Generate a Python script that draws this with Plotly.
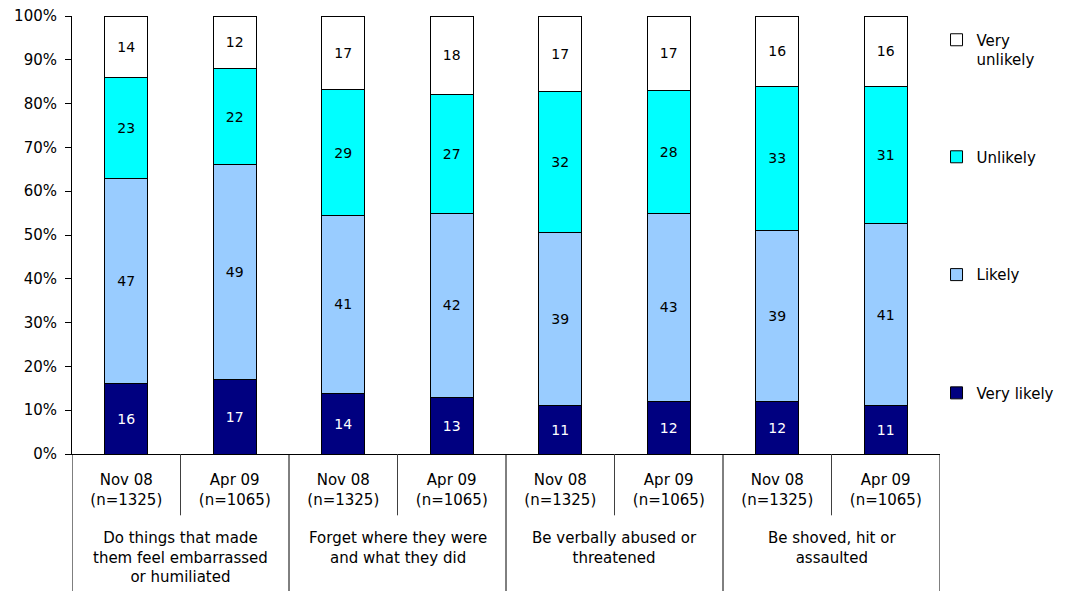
import plotly.graph_objects as go

# Categories: outer group (behaviour) and inner period (survey wave)
groups = [
    "Do things that made<br>them feel embarrassed<br>or humiliated",
    "Forget where they were<br>and what they did",
    "Be verbally abused or<br>threatened",
    "Be shoved, hit or<br>assaulted",
]
periods = ["Nov 08<br>(n=1325)", "Apr 09<br>(n=1065)"]

# Responses (%), in bar order
very_likely = [16, 17, 14, 13, 11, 12, 12, 11]
likely = [47, 49, 41, 42, 39, 43, 39, 41]
unlikely = [23, 22, 29, 27, 32, 28, 33, 31]
very_unlikely = [14, 12, 17, 18, 17, 17, 16, 16]

n_per = len(periods)
tick_text = [p for _ in groups for p in periods]
xpos = list(range(len(tick_text)))

FONT = "DejaVu Sans, Verdana, sans-serif"

series = [
    ("Very likely", very_likely, "#000080", "white", "legend4", 0.139),
    ("Likely", likely, "#99CCFF", "black", "legend3", 0.409),
    ("Unlikely", unlikely, "#00FFFF", "black", "legend2", 0.678),
    ("Very<br>unlikely", very_unlikely, "#FFFFFF", "black", "legend", 0.9235),
]

fig = go.Figure()
legends = {}
for name, vals, color, tcolor, leg, ly in series:
    fig.add_trace(go.Bar(
        x=xpos,
        y=vals,
        name=name,
        legend=leg,
        width=0.4,
        marker=dict(color=color, line=dict(color="black", width=1)),
        text=vals,
        textposition="inside",
        insidetextanchor="middle",
        textangle=0,
        constraintext="none",
        textfont=dict(family=FONT, size=14, color=tcolor),
        hoverinfo="skip",
    ))
    legends[leg] = dict(
        x=0.996, y=ly, xanchor="left", yanchor="middle",
        valign="top",
        font=dict(family=FONT, size=15, color="black"),
        bgcolor="rgba(0,0,0,0)",
        itemwidth=30,
    )

# Divider lines below the axis: thin grey ones between the two waves,
# black ones between behaviour groups (running to the bottom edge)
shapes = []
for g in range(len(groups)):
    mid = g * n_per + (n_per - 1) / 2
    shapes.append(dict(type="line", xref="x", yref="paper",
                       x0=mid, x1=mid, y0=0, y1=-0.14,
                       line=dict(color="#404040", width=1)))
for g in range(len(groups) + 1):
    edge = g * n_per - 0.5
    shapes.append(dict(type="line", xref="x", yref="paper",
                       x0=edge, x1=edge, y0=0, y1=-0.32,
                       line=dict(color="black", width=1)))

annotations = []
for g, label in enumerate(groups):
    center = g * n_per + (n_per - 1) / 2
    annotations.append(dict(
        x=center, y=-0.166, xref="x", yref="paper",
        text=label, showarrow=False,
        xanchor="center", yanchor="top", align="center",
        font=dict(family=FONT, size=15, color="black"),
    ))

fig.update_layout(
    barmode="stack",
    barnorm="percent",
    width=1065,
    height=591,
    margin=dict(l=72, r=125, t=16, b=137, autoexpand=False),
    paper_bgcolor="white",
    plot_bgcolor="white",
    font=dict(family=FONT, size=15, color="black"),
    showlegend=True,
    shapes=shapes,
    annotations=annotations,
    **legends,
)

fig.update_yaxes(
    range=[0, 100],
    dtick=10,
    ticksuffix="%",
    showgrid=False,
    showline=True,
    linecolor="black",
    linewidth=1,
    ticks="outside",
    ticklen=6,
    tickcolor="black",
    ticklabelstandoff=5,
    zeroline=False,
    automargin=False,
    tickfont=dict(family=FONT, size=15),
)

fig.update_xaxes(
    range=[-0.5, len(xpos) - 0.5],
    tickvals=xpos,
    ticktext=tick_text,
    ticks="",
    ticklabelstandoff=12,
    showline=True,
    linecolor="black",
    linewidth=1,
    showgrid=False,
    zeroline=False,
    automargin=False,
    tickfont=dict(family=FONT, size=15),
)

fig.write_html("out.html")
